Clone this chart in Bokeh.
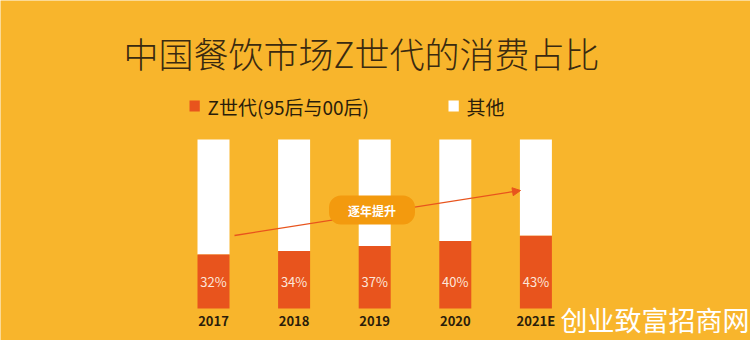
from bokeh.plotting import figure
from bokeh.models import ColumnDataSource, Label, Arrow, NormalHead, Range1d
from bokeh.core.properties import value
from bokeh.embed import file_html
from bokeh.resources import INLINE

years = ["2017", "2018", "2019", "2020", "2021E"]
genz = [32, 34, 37, 40, 43]
other = [100 - v for v in genz]
pct_labels = ["32%", "34%", "37%", "40%", "43%"]

W, H = 750, 340
BG = "#F8B52C"
ORANGE = "#E8541D"
FONT = "Noto Sans CJK SC"

# pixel geometry mapping via ranges
cx0, step = 213.0, 80.6
y0px, y100px = 308.0, 139.0
ppu = (y0px - y100px) / 100.0
x_start = -cx0 / step
x_end = (W - cx0) / step
y_start = -(H - y0px) / ppu
y_end = 100 + y100px / ppu

idx = list(range(len(years)))
src = ColumnDataSource(dict(x=idx, genz=genz, top=[100] * len(years),
                            pct=pct_labels, year=years))

p = figure(width=W, height=H, output_backend="svg", toolbar_location=None,
           x_range=Range1d(x_start, x_end), y_range=Range1d(y_start, y_end),
           min_border=0, background_fill_color=BG, border_fill_color=BG)
p.outline_line_color = None
p.axis.visible = False
p.grid.visible = False

bw = 32 / step
p.vbar(x="x", bottom="genz", top="top", width=bw, source=src,
       fill_color="white", line_color=None)
p.vbar(x="x", bottom=0, top="genz", width=bw, source=src,
       fill_color=ORANGE, line_color=None)

p.text(x="x", y=0, text="pct", source=src, text_align="center",
       text_baseline="middle", text_color="#FCE6DA", text_font_size="13px",
       text_font=value(FONT), y_offset=-27)
p.text(x="x", y=0, text="year", source=src, text_align="center",
       text_baseline="middle", text_color="#2b1d0a", text_font_size="13px",
       text_font_style="bold", text_font=value(FONT), y_offset=12)

# trend arrow
ax0, ay0 = (234 - cx0) / step, (y0px - 235) / ppu
ax1, ay1 = (520 - cx0) / step, (y0px - 190) / ppu
p.add_layout(Arrow(x_start=ax0, y_start=ay0, x_end=ax1, y_end=ay1,
                   line_color=ORANGE, line_width=1.3,
                   end=NormalHead(size=8, fill_color=ORANGE, line_color=ORANGE)))

p.add_layout(Label(x=371.5, y=H - 209.5, x_units="screen", y_units="screen",
                   text="逐年提升", text_align="center", text_baseline="middle",
                   text_color="white", text_font_size="12px", text_font_style="bold",
                   text_font=FONT, background_fill_color="#F39A0E",
                   padding=(19, 6), border_radius=12))

# title
p.add_layout(Label(x=361, y=H - 52, x_units="screen", y_units="screen",
                   text="中国餐饮市场Z世代的消费占比", text_align="center",
                   text_baseline="middle", text_color="#3a2a10",
                   text_font_size="35px", text_font="Noto Sans CJK SC Light"))

# legend
p.add_layout(Label(x=189, y=H - 111, x_units="screen", y_units="screen",
                   text=" ", background_fill_color=ORANGE, text_font_size="1px",
                   padding=5))
p.add_layout(Label(x=207, y=H - 106, x_units="screen", y_units="screen",
                   text="Z世代(95后与00后)", text_baseline="middle",
                   text_color="#2b1d0a", text_font_size="19px", text_font=FONT))
p.add_layout(Label(x=448, y=H - 111, x_units="screen", y_units="screen",
                   text=" ", background_fill_color="white", text_font_size="1px",
                   padding=5))
p.add_layout(Label(x=466, y=H - 106, x_units="screen", y_units="screen",
                   text="其他", text_baseline="middle",
                   text_color="#2b1d0a", text_font_size="19px", text_font=FONT))

# watermark
p.add_layout(Label(x=749, y=H - 319, x_units="screen", y_units="screen",
                   text="创业致富招商网", text_align="right", text_baseline="middle",
                   text_color="white", text_font_size="27px", text_font=FONT))

open("out.html", "w").write(file_html(p, INLINE))
